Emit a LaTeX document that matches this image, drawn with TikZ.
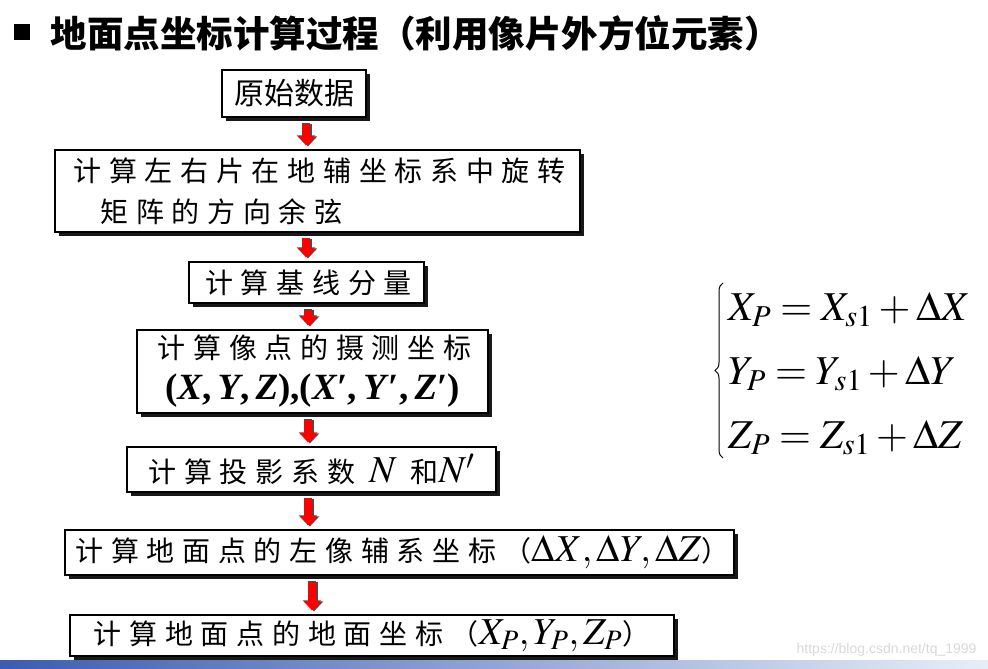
\documentclass[tikz,border=0pt]{standalone}
\usepackage{mathptmx}
\usepackage{fontspec}
\setmainfont{Liberation Serif}
\newfontfamily\cjk{Noto Sans CJK SC}
\newfontfamily\cjks[LetterSpace=27.5]{Noto Sans CJK SC}
\newfontfamily\serifbi{Liberation Serif}
\newfontfamily\wmfont{Liberation Sans}
\usetikzlibrary{shadows,arrows.meta,decorations.pathreplacing}
\newcommand\bigmath[1]{{\fontsize{38}{41}\selectfont$#1$}}
\tikzset{
  flowbox/.style={draw=black, line width=1.3pt, fill=white, inner sep=0pt,
    drop shadow={shadow xshift=4pt, shadow yshift=-4pt, fill=black!90, opacity=1},
    font=\cjks\fontsize{28}{41}\selectfont},
  flowarrow/.style={draw=red, line width=8pt, -{Triangle[width=18pt,length=10pt]}},
  arrowshadow/.style={draw=black!70, line width=8pt, -{Triangle[width=18pt,length=10pt]}},
  bulletsq/.style={fill=black, inner sep=0pt, minimum size=16pt},
  eqbrace/.style={decorate, decoration={brace, amplitude=8pt}, line width=1pt}
}
\newcommand\flowarr[3]{%
  \path (#1.south -| #3) coordinate (#1-out) (#2.north -| #3) coordinate (#2-in);
  \draw[arrowshadow] ([shift={(2,6)}]#1-out) -- ([shift={(2,-3)}]#2-in);
  \draw[flowarrow] ([shift={(0,5)}]#1-out) -- ([shift={(0,-4)}]#2-in);
}
\begin{document}
\begin{tikzpicture}[x=1pt,y=-1pt]
\useasboundingbox (0,0) rectangle (988,669);
\fill[white] (0,0) rectangle (988,669);
% bottom strip
\shade[left color={rgb,255:red,58;green,92;blue,178},
       middle color={rgb,255:red,140;green,165;blue,215},
       right color={rgb,255:red,232;green,238;blue,248}] (0,660) rectangle (988,669);
% title
\node[bulletsq] (bullet) at (22,32) {};
\node[anchor=west, font=\cjk\bfseries\fontsize{36.5}{40}\selectfont] (title) at (47,33)
  {地面点坐标计算过程（利用像片外方位元素）};
% boxes
\node[flowbox, minimum width=144pt, minimum height=47pt, font=\cjk\fontsize{30}{36}\selectfont] (b1) at (294,93.5) {原始数据};
\node[flowbox, minimum width=525pt, minimum height=82pt, align=left] (b2) at (317.5,191)
  {\hspace*{4pt}计算左右片在地辅坐标系中旋转\\\hspace*{31pt}矩阵的方向余弦};
\node[flowbox, minimum width=235pt, minimum height=41pt] (b3) at (306.5,282.5) {\hspace*{4pt}计算基线分量};
\node[flowbox, minimum width=351pt, minimum height=83pt, align=center] (b4) at (312.5,371.5)
  {\hspace*{4pt}计算像点的摄测坐标\\{\serifbi\bfseries\fontsize{37}{41}\selectfont (\textit{X},\,\textit{Y},\,\textit{Z}),(\textit{X}′,\,\textit{Y}′,\,\textit{Z}′)}};
\node[flowbox, minimum width=369pt, minimum height=45pt] (b5) at (311.5,469.5)
  {计算投影系数 \bigmath{N} 和\bigmath{N'}};
\node[flowbox, minimum width=669pt, minimum height=45pt] (b6) at (399.5,552.5)
  {\hspace*{6pt}计算地面点的左像辅系坐标（\bigmath{\Delta X,\Delta Y,\Delta Z}）};
\node[flowbox, minimum width=604pt, minimum height=41pt] (b7) at (372,635.5)
  {计算地面点的地面坐标（\bigmath{X_P,Y_P,Z_P}）};
% arrow columns
\coordinate (colA) at (306,0);
\coordinate (colB) at (308,0);
\coordinate (colC) at (312,0);
\flowarr{b1}{b2}{colA}
\flowarr{b2}{b3}{colA}
\flowarr{b3}{b4}{colB}
\flowarr{b4}{b5}{colB}
\flowarr{b5}{b6}{colB}
\flowarr{b6}{b7}{colC}
% equation
\coordinate (brbot) at (723,458);
\coordinate (brtop) at (723,283);
\draw[eqbrace] (brbot) -- (brtop);
\node[anchor=west, inner sep=0pt] (eq) at (728,372) {\fontsize{41}{50}\selectfont\renewcommand\arraystretch{1.28}%
  $\begin{array}{@{}l@{}}
  X_P=X_{s1}+\Delta X\\
  Y_P=Y_{s1}+\Delta Y\\
  Z_P=Z_{s1}+\Delta Z
  \end{array}$};
% watermark
\node[anchor=east, text=black!15, font=\wmfont\fontsize{14}{16}\selectfont] (wm) at (980,650) {https://blog.csdn.net/tq\_1999};
\end{tikzpicture}
\end{document}
